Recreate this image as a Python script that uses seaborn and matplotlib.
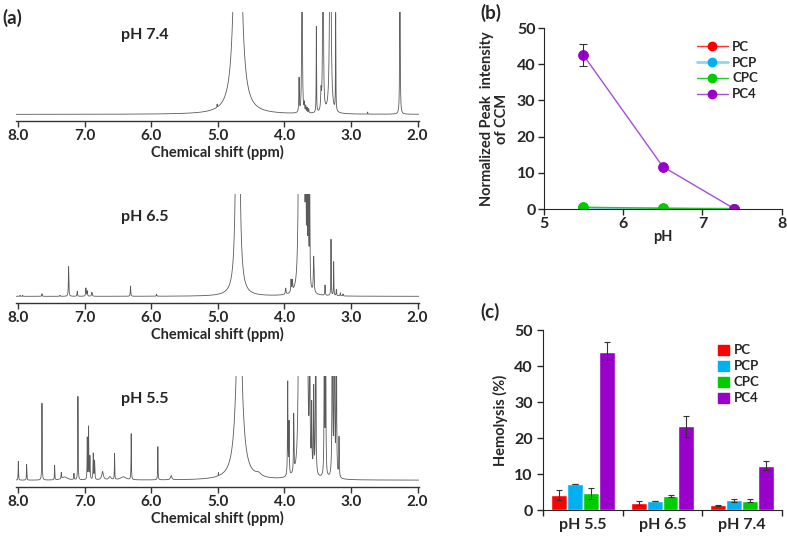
import numpy as np
import pandas as pd
import matplotlib
matplotlib.use("Agg")
import matplotlib.pyplot as plt
import matplotlib.patches as mpatches
from matplotlib.lines import Line2D
import seaborn as sns

sns.set_style("ticks")
plt.rcParams["font.family"] = ["Lato", "DejaVu Sans"]
plt.rcParams["font.weight"] = "bold"
plt.rcParams["axes.labelweight"] = "bold"

# ---- (a) 1H NMR peaks: centre (ppm), height, half width ----
ppm_74 = [5.01, 4.70, 3.78, 3.735, 3.70, 3.68, 3.66, 3.635, 3.52, 3.45, 3.42, 3.31, 3.23, 2.75, 2.265]
h_74 = [0.03, 5.6, 0.33, 3.0, 0.08, 0.06, 0.05, 0.04, 0.84, 0.18, 3.0, 4.0, 0.95, 0.02, 3.0]
w_74 = [0.002, 0.035, 0.004, 0.004, 0.004, 0.004, 0.004, 0.004, 0.003, 0.006, 0.005, 0.008, 0.003, 0.002, 0.003]

ppm_65 = [7.97, 7.93, 7.64, 7.37, 7.24, 7.11, 6.98, 6.96, 6.89, 6.31, 5.92, 4.70, 3.98, 3.90, 3.88,
          3.78, 3.74, 3.71, 3.68, 3.66, 3.64, 3.62, 3.56, 3.39, 3.30, 3.26, 3.22, 3.16, 3.12]
h_65 = [0.01, 0.01, 0.025, 0.01, 0.29, 0.05, 0.08, 0.05, 0.04, 0.10, 0.02, 8.8, 0.06, 0.12, 0.10,
        2.0, 2.0, 2.0, 1.5, 1.5, 1.5, 1.2, 0.35, 0.10, 0.55, 0.33, 0.06, 0.03, 0.02]
w_65 = [0.003, 0.003, 0.004, 0.004, 0.004, 0.004, 0.005, 0.004, 0.006, 0.004, 0.004, 0.0143, 0.006, 0.005, 0.005,
        0.012, 0.012, 0.012, 0.004, 0.004, 0.004, 0.004, 0.006, 0.004, 0.003, 0.003, 0.004, 0.004, 0.004]

ppm_55 = [7.995, 7.87, 7.64, 7.45, 7.35, 7.30, 7.16, 7.10, 6.96, 6.94, 6.92, 6.87, 6.85, 6.73, 6.62,
          6.55, 6.42, 6.30, 5.90, 5.70, 4.99, 4.68, 4.39, 3.95, 3.93, 3.86, 3.78, 3.74, 3.70, 3.66,
          3.62, 3.59, 3.56, 3.53, 3.40, 3.38, 3.28, 3.25, 3.22, 3.18]
h_55 = [0.18, 0.15, 0.74, 0.14, 0.06, 0.03, 0.06, 0.80, 0.40, 0.50, 0.22, 0.25, 0.18, 0.08, 0.03,
        0.25, 0.03, 0.44, 0.32, 0.04, 0.03, 1.96, 0.03, 0.90, 0.50, 0.55, 2.0, 2.0, 2.0, 2.0,
        2.0, 0.6, 0.8, 2.0, 2.0, 1.5, 3.0, 3.0, 2.0, 0.38]
w_55 = [0.003, 0.003, 0.003, 0.003, 0.004, 0.05, 0.004, 0.003, 0.003, 0.003, 0.004, 0.004, 0.004, 0.015, 0.02,
        0.003, 0.05, 0.003, 0.003, 0.012, 0.002, 0.046, 0.05, 0.004, 0.004, 0.004, 0.012, 0.012, 0.012, 0.012,
        0.004, 0.004, 0.004, 0.004, 0.004, 0.004, 0.004, 0.004, 0.004, 0.004]

spectra = [("pH 7.4", ppm_74, h_74, w_74), ("pH 6.5", ppm_65, h_65, w_65), ("pH 5.5", ppm_55, h_55, w_55)]
shift_ticks = [8.0, 7.0, 6.0, 5.0, 4.0, 3.0, 2.0]

# ---- (b) normalized peak intensity of CCM ----
ph_b = [5.5, 6.5, 7.4]
materials = ["PC", "PCP", "CPC", "PC4"]
intensity = {
    "PC": [0.3, 0.1, 0.0],
    "PCP": [0.1, 0.1, 0.0],
    "CPC": [0.5, 0.2, 0.0],
    "PC4": [42.5, 11.7, 0.1],
}
intensity_err_pc4 = [3.0, 0.0, 0.0]

# ---- (c) hemolysis ----
ph_c = ["pH 5.5", "pH 6.5", "pH 7.4"]
hemolysis = {
    "PC": [4.2, 1.9, 1.3],
    "PCP": [7.2, 2.5, 2.7],
    "CPC": [4.7, 3.9, 2.6],
    "PC4": [43.8, 23.3, 12.3],
}
hemolysis_err = {
    "PC": [1.5, 0.5, 0.1],
    "PCP": [0.1, 0.1, 0.5],
    "CPC": [1.5, 0.2, 0.5],
    "PC4": [2.9, 2.9, 1.3],
}

colors = {"PC": "#FF0000", "PCP": "#00B0F0", "CPC": "#00CC00", "PC4": "#9900CC"}
line_colors = {"PC": "#FF3030", "PCP": "#8FD6F2", "CPC": "#20CC20", "PC4": "#A64DDB"}


def lorentz_sum(x, centers, heights, widths):
    y = np.zeros_like(x)
    for c, h, w in zip(centers, heights, widths):
        y += h * w ** 2 / (w ** 2 + (x - c) ** 2)
    return y


fig = plt.figure(figsize=(7.87, 5.38), dpi=100)

# panel (a)
x = np.linspace(8.05, 1.98, 14000)
spec_boxes = [[0.0203, 0.775, 0.512, 0.2026],
              [0.0203, 0.4368, 0.512, 0.2026],
              [0.0203, 0.0948, 0.512, 0.2063]]
for (name, cs, hs, ws), box in zip(spectra, spec_boxes):
    ax = fig.add_axes(box)
    df = pd.DataFrame({"ppm": x, "signal": lorentz_sum(x, cs, hs, ws)})
    sns.lineplot(data=df, x="ppm", y="signal", ax=ax, color="#5a5a5a", lw=0.6,
                 estimator=None, sort=False)
    ax.set_xlim(8.03, 1.98)
    ax.set_ylim(-0.065, 1.0)
    ax.set_yticks([])
    ax.set_ylabel("")
    for s in ["top", "right", "left"]:
        ax.spines[s].set_visible(False)
    ax.spines["bottom"].set_linewidth(1.0)
    ax.spines["bottom"].set_color("#333333")
    ax.set_xticks(shift_ticks)
    ax.set_xticklabels([f"{t:.1f}" for t in shift_ticks], fontsize=11, fontweight="bold")
    ax.tick_params(axis="x", direction="out", length=4, width=1, pad=2, color="#333333")
    ax.set_xlabel("Chemical shift (ppm)", fontsize=10.5, fontweight="bold", labelpad=1)
    ax.text(0.32, 0.79, name, transform=ax.transAxes, fontsize=11.5, fontweight="bold",
            ha="center", va="center")
    ax.patch.set_alpha(0)

fig.text(0.003, 0.967, "(a)", fontsize=13.5, fontweight="bold", ha="left", va="center")

# panel (b)
axb = fig.add_axes([0.691, 0.6115, 0.3024, 0.3364])
for m in materials:
    dfb = pd.DataFrame({"pH": ph_b, "val": intensity[m]})
    lw = 2.0 if m == "PCP" else 1.0
    sns.lineplot(data=dfb, x="pH", y="val", ax=axb, color=line_colors[m], lw=lw,
                 marker="o", markersize=7, markerfacecolor=colors[m],
                 markeredgecolor=colors[m], estimator=None, label=None)
axb.errorbar(ph_b[0], intensity["PC4"][0], yerr=intensity_err_pc4[0], fmt="none",
             ecolor="#333333", elinewidth=0.8, capsize=3, capthick=0.8)
axb.set_xlim(5, 8)
axb.set_ylim(0, 50)
axb.set_xticks([5, 6, 7, 8])
axb.set_yticks([0, 10, 20, 30, 40, 50])
axb.tick_params(labelsize=11.5, direction="out", length=4, width=1, pad=2)
for lbl in axb.get_xticklabels() + axb.get_yticklabels():
    lbl.set_fontweight("bold")
axb.set_xlabel("pH", fontsize=10.5, fontweight="bold", labelpad=-1)
axb.set_ylabel("Normalized Peak  intensity\nof CCM", fontsize=10.5, fontweight="bold",
               linespacing=1.05, labelpad=6)
sns.despine(ax=axb)
handles_b = [Line2D([0], [0], color=line_colors[m], lw=2.0 if m == "PCP" else 1.0, marker="o",
                    markersize=6, markerfacecolor=colors[m], markeredgecolor=colors[m], label=m)
             for m in materials]
axb.legend(handles=handles_b, loc="upper left", bbox_to_anchor=(0.62, 0.96), frameon=False,
           prop={"size": 9.5, "weight": "bold"}, handlelength=2.4, labelspacing=0.3,
           handletextpad=0.3, borderaxespad=0)
fig.text(0.61, 0.975, "(b)", fontsize=13.5, fontweight="bold", ha="left", va="center")

# panel (c)
axc = fig.add_axes([0.690, 0.052, 0.3037, 0.3346])
rows = []
for m in materials:
    for p, v in zip(ph_c, hemolysis[m]):
        rows.append({"pH": p, "material": m, "val": v})
dfc = pd.DataFrame(rows)
sns.barplot(data=dfc, x="pH", y="val", hue="material", order=ph_c, hue_order=materials,
            palette=colors, width=0.8, ax=axc, errorbar=None, saturation=1, legend=False)
for i, m in enumerate(materials):
    xs = np.arange(len(ph_c)) - 0.3 + 0.2 * i
    axc.errorbar(xs, hemolysis[m], yerr=hemolysis_err[m], fmt="none", ecolor="#333333",
                 elinewidth=0.8, capsize=2.5, capthick=0.8)
axc.set_xlim(-0.5, 2.5)
axc.set_ylim(0, 50)
axc.set_yticks([0, 10, 20, 30, 40, 50])
axc.set_xticks([-0.5, 0.5, 1.5, 2.5])
axc.set_xticklabels([])
axc.set_xticks([0, 1, 2], minor=True)
axc.set_xticklabels(ph_c, minor=True, fontsize=11.5, fontweight="bold")
axc.tick_params(axis="x", which="minor", length=0, pad=6)
axc.tick_params(axis="both", which="major", labelsize=11.5, direction="out", length=4, width=1)
for lbl in axc.get_yticklabels():
    lbl.set_fontweight("bold")
axc.set_xlabel("")
axc.set_ylabel("Hemolysis (%)", fontsize=10.5, fontweight="bold", labelpad=4)
sns.despine(ax=axc)
handles_c = [mpatches.Patch(color=colors[m], label=m) for m in materials]
axc.legend(handles=handles_c, loc="upper left", bbox_to_anchor=(0.71, 0.95), frameon=False,
           prop={"size": 9.5, "weight": "bold"}, handlelength=0.8, handleheight=0.8,
           labelspacing=0.3, handletextpad=0.4, borderaxespad=0)
fig.text(0.61, 0.42, "(c)", fontsize=13.5, fontweight="bold", ha="left", va="center")

fig.savefig("out.png", dpi=100)
